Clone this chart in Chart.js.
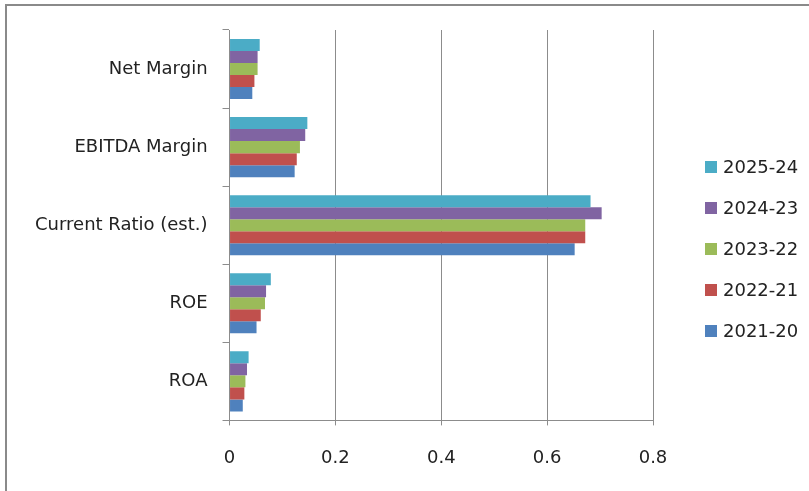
<!DOCTYPE html>
<html>
<head>
<meta charset="utf-8">
<script src="https://cdn.jsdelivr.net/npm/chart.js@4.4.1/dist/chart.umd.min.js"></script>
<style>
  html, body { margin: 0; padding: 0; background: #fff; }
  #wrap { position: relative; width: 809px; height: 491px; overflow: hidden; }
  #frame {
    position: absolute; left: 5px; top: 4px; width: 900px; height: 600px;
    border-left: 2px solid #8a8a8a; border-top: 2px solid #8a8a8a;
  }
  #grafico { position: absolute; left: 0; top: 0; }
  #legenda {
    position: absolute; left: 705px; top: 146px;
    font-family: "DejaVu Sans", sans-serif; font-size: 18px; color: #222;
  }
  .item { display: flex; align-items: center; height: 41px; }
  .item .box { width: 12px; height: 12px; margin-right: 6px; }
</style>
</head>
<body>
<div id="wrap">
  <div id="frame"></div>
  <canvas id="grafico" width="809" height="491"></canvas>
  <div id="legenda"></div>
</div>
<script>
// categorias (de cima para baixo)
const categorias = ["Net Margin", "EBITDA Margin", "Current Ratio (est.)", "ROE", "ROA"];

// séries por período
const serie2025_24 = [0.057, 0.147, 0.682, 0.078, 0.036];
const serie2024_23 = [0.053, 0.143, 0.703, 0.069, 0.033];
const serie2023_22 = [0.053, 0.133, 0.672, 0.067, 0.030];
const serie2022_21 = [0.047, 0.127, 0.672, 0.059, 0.028];
const serie2021_20 = [0.043, 0.123, 0.652, 0.051, 0.025];

const periodos = ["2025-24", "2024-23", "2023-22", "2022-21", "2021-20"];
const cores = ["#4BACC6", "#8064A2", "#9BBB59", "#C0504D", "#4F81BD"];
const series = [serie2025_24, serie2024_23, serie2023_22, serie2022_21, serie2021_20];

const eixoMin = 0;
const eixoMax = 0.8;
const eixoPasso = 0.2;

document.addEventListener("DOMContentLoaded", function () {
  const ctx = document.getElementById("grafico");

  const datasets = periodos.map((p, i) => ({
    label: p,
    data: series[i],
    backgroundColor: cores[i],
    borderWidth: 0,
    categoryPercentage: 0.77,
    barPercentage: 1.0,
  }));

  const grafico = new Chart(ctx.getContext("2d"), {
    type: "bar",
    data: { labels: categorias, datasets: datasets },
    options: {
      responsive: false,
      animation: false,
      indexAxis: "y",
      layout: { padding: { top: 30, right: 156, bottom: 0, left: 20 } },
      plugins: {
        legend: { display: false }, // legenda está no HTML
        tooltip: { enabled: false },
      },
      scales: {
        x: {
          min: eixoMin,
          max: eixoMax,
          ticks: {
            stepSize: eixoPasso,
            color: "#222",
            padding: 22,
            font: { family: "DejaVu Sans", size: 18 },
          },
          grid: { color: "#8c8c8c", lineWidth: 1, tickLength: 5 },
          border: { color: "#8c8c8c", width: 1 },
        },
        y: {
          ticks: {
            color: "#222",
            padding: 15,
            font: { family: "DejaVu Sans", size: 18 },
          },
          grid: {
            offset: true,
            drawOnChartArea: false,
            tickLength: 7,
            color: "#8c8c8c",
          },
          border: { color: "#8c8c8c", width: 1 },
        },
      },
    },
  });

  // legenda em HTML
  const legenda = document.getElementById("legenda");
  grafico.data.datasets.forEach((ds) => {
    const item = document.createElement("div");
    item.className = "item";
    const box = document.createElement("span");
    box.className = "box";
    box.style.background = ds.backgroundColor;
    const txt = document.createElement("span");
    txt.textContent = ds.label;
    item.appendChild(box);
    item.appendChild(txt);
    legenda.appendChild(item);
  });
});
</script>
</body>
</html>
